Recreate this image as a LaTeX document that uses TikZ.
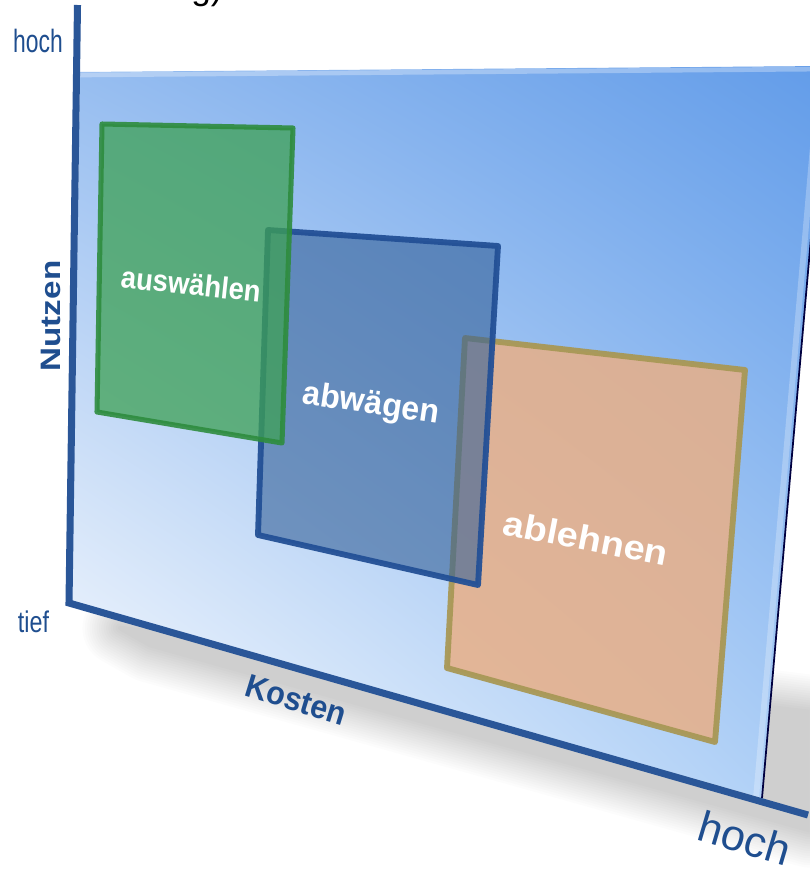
\documentclass[tikz,border=0pt]{standalone}
\usepackage{fontspec}
\setmainfont{Liberation Sans}
\usepackage{graphicx}
\usepackage{xcolor}
\usetikzlibrary{calc,shadings}
\definecolor{axisblue}{RGB}{42,86,152}
\definecolor{labelblue}{RGB}{31,78,143}
\definecolor{paneltl}{RGB}{150,189,240}
\definecolor{paneltr}{RGB}{98,156,233}
\definecolor{panelbl}{RGB}{255,255,255}
\definecolor{panelbr}{RGB}{170,205,246}
\definecolor{greenfill}{RGB}{62,161,85}
\definecolor{greenline}{RGB}{46,140,62}
\definecolor{bluefill}{RGB}{53,97,152}
\definecolor{blueline}{RGB}{35,80,150}
\definecolor{orangefill}{RGB}{232,175,135}
\definecolor{orangeline}{RGB}{168,152,86}

\begin{document}
\begin{tikzpicture}[x=0.03cm, y=-0.03cm,
  axisline/.style={axisblue, line width=6pt, line join=miter},
  fieldlabel/.style={white, font=\bfseries\fontsize{#1}{#1}\selectfont, inner sep=0pt},
  axislabel/.style={labelblue, font=\bfseries\fontsize{#1}{#1}\selectfont, inner sep=0pt},
  scalelabel/.style={labelblue, font=\fontsize{#1}{#1}\selectfont, inner sep=0pt}]

\useasboundingbox[fill=white] (0,0) rectangle (809,869);

% Cut-off heading at the top
\node[font=\fontsize{30}{30}\selectfont, anchor=base, inner sep=0pt] (heading) at (207,-1) {g)};

% Soft shadow under the panel
\foreach \w in {64,60,...,4} {
  \begin{scope}[transparency group, opacity=0.013]
    \filldraw[black, line width=\w pt, line join=round] (120,628) -- (809,712) -- (809,830) -- (150,645) -- cycle;
  \end{scope}
}

% Panel
\coordinate (pTL) at (80,72);
\coordinate (pTR) at (826,66);
\coordinate (pBR) at (762,798);
\coordinate (pBL) at (72,602);
\shade[upper left=paneltl, upper right=paneltr, lower left=panelbl, lower right=panelbr]
  (pTL) -- (pTR) -- (pBR) -- (pBL) -- cycle;
\draw[white, opacity=0.3, line width=4pt] ($(pTL)+(0,3)$) -- ($(pTR)+(0,3)$);
\draw[white, opacity=0.25, line width=5pt] ($(pTR)+(-6,0)$) -- ($(pBR)+(-6,0)$);
\draw[black!75!blue, line width=1.5pt] (pTR) -- (pBR);

% Fields: ablehnen, abwaegen, auswaehlen
\filldraw[fill=orangefill, fill opacity=0.85, draw=orangeline, draw opacity=0.95, line width=5pt, line join=round]
  (465,338) -- (745,370) -- (715,742) -- (447,668) -- cycle;
\filldraw[fill=bluefill, fill opacity=0.6, draw=blueline, draw opacity=0.95, line width=5pt, line join=round]
  (268,230) -- (498,246) -- (478,585) -- (258,535) -- cycle;
\filldraw[fill=greenfill, fill opacity=0.75, draw=greenline, draw opacity=0.9, line width=4.3pt, line join=round]
  (102,124) -- (293,128) -- (282,443) -- (97,412) -- cycle;

\node[fieldlabel=26, rotate=-6] (select) at (191,284) {\scalebox{0.9}[1]{auswählen}};
\node[fieldlabel=28.5, rotate=-8.4] (weigh) at (371,405) {\scalebox{0.96}[1]{abwägen}};
\node[fieldlabel=29.5, rotate=-11] (reject) at (586,538) {\scalebox{1.1}[1]{ablehnen}};

% Axes
\coordinate (ytop) at (77.5,5);
\coordinate (origin) at (69,603);
\coordinate (xend) at (808,815);
\draw[axisline] (ytop) -- (origin) -- (xend);

% Axis labels
\node[scalelabel=27.5, anchor=base] (yhigh) at (38,52) {\scalebox{0.71}[1]{hoch}};
\node[scalelabel=25.5, anchor=base] (ylow) at (33.5,632) {\scalebox{0.78}[1]{tief}};
\node[axislabel=24, rotate=90] (yname) at (51,316) {\scalebox{1.18}[1]{Nutzen}};
\node[axislabel=28, rotate=-17] (xname) at (296,700) {\scalebox{0.93}[1]{Kosten}};
\node[scalelabel=37, rotate=-16.5] (xhigh) at (745,838) {hoch};

\end{tikzpicture}
\end{document}
